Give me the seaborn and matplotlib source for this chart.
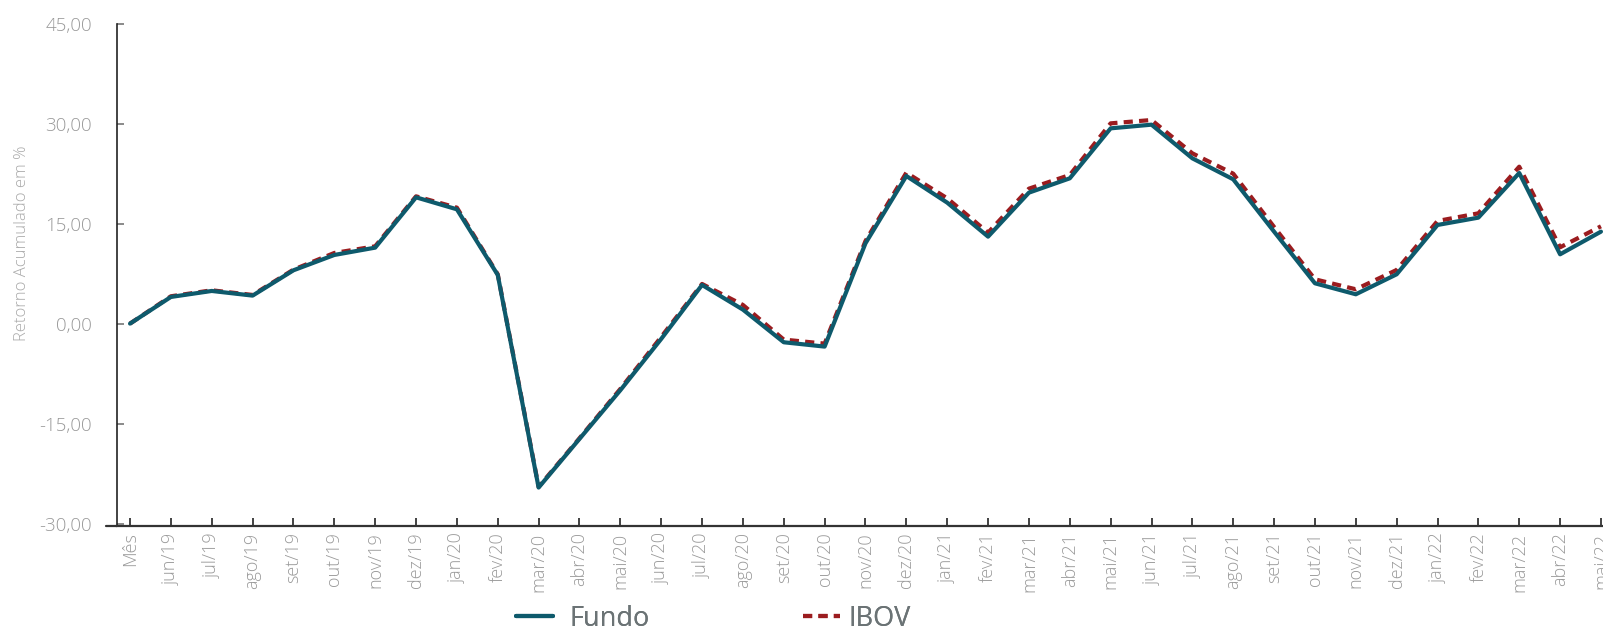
import matplotlib
matplotlib.use('Agg')
import numpy as np
import pandas as pd
import matplotlib.pyplot as plt
import seaborn as sns
from matplotlib.lines import Line2D
from matplotlib.ticker import FuncFormatter

meses = ["Mês", "jun/19", "jul/19", "ago/19", "set/19", "out/19", "nov/19", "dez/19",
         "jan/20", "fev/20", "mar/20", "abr/20", "mai/20", "jun/20", "jul/20", "ago/20",
         "set/20", "out/20", "nov/20", "dez/20", "jan/21", "fev/21", "mar/21", "abr/21",
         "mai/21", "jun/21", "jul/21", "ago/21", "set/21", "out/21", "nov/21", "dez/21",
         "jan/22", "fev/22", "mar/22", "abr/22", "mai/22"]

fundo = [0.0, 4.0, 4.9, 4.2, 8.0, 10.3, 11.4, 18.95, 17.15, 7.3, -24.6, -17.3, -10.0,
         -2.3, 5.8, 2.1, -2.8, -3.45, 12.05, 22.15, 18.15, 13.05, 19.65, 21.8, 29.3,
         29.85, 24.8, 21.65, 13.8, 6.05, 4.4, 7.4, 14.8, 15.9, 22.6, 10.4, 13.8]

ibov = [0.0, 4.1, 5.0, 4.3, 8.1, 10.6, 11.6, 19.1, 17.4, 7.4, -24.5, -17.2, -9.8,
        -2.0, 5.95, 2.8, -2.4, -3.0, 12.4, 22.65, 18.8, 13.65, 20.25, 22.3, 30.05,
        30.55, 25.55, 22.5, 14.5, 6.65, 5.15, 8.05, 15.4, 16.55, 23.55, 11.45, 14.6]

df = pd.DataFrame({"pos": np.arange(len(meses)), "mes": meses, "Fundo": fundo, "IBOV": ibov})

sns.set_style("white")
plt.rcParams['font.family'] = ['Open Sans', 'DejaVu Sans']

cor_fundo = "#0e5a6c"
cor_ibov = "#9b1c1f"
tracejado = (0, (2.2, 1.5))

fig = plt.figure(figsize=(16.03, 6.29), dpi=100)
ax = fig.add_axes([0.0727, 0.1645, 0.9273, 0.7978])

sns.lineplot(data=df, x="pos", y="IBOV", ax=ax, color=cor_ibov, linewidth=3,
             linestyle=tracejado, zorder=2)
sns.lineplot(data=df, x="pos", y="Fundo", ax=ax, color=cor_fundo, linewidth=3, zorder=3)

ax.set_xlim(-0.33, 36.05)
ax.set_ylim(-30.3, 45)
ax.set_yticks([-30, -15, 0, 15, 30, 45])
ax.yaxis.set_major_formatter(FuncFormatter(lambda v, p: f"{v:.2f}".replace(".", ",")))
ax.set_xticks(df["pos"])
ax.set_xticklabels(meses, rotation=90, va="top")
ax.set_xlabel("")
ax.set_ylabel("")

ax.tick_params(axis="y", direction="in", length=5, width=1.2, color="#777777",
               labelcolor="#999999", labelsize=13.5, pad=17.5, left=True)
ax.tick_params(axis="x", direction="in", length=5.5, width=1.2, color="#222222",
               labelcolor="#9a9a9a", labelsize=13, pad=5, bottom=True)
for lbl in ax.get_xticklabels() + ax.get_yticklabels():
    lbl.set_fontweight("light")

for s in ["top", "right"]:
    ax.spines[s].set_visible(False)
ax.spines["left"].set_color("#222222")
ax.spines["left"].set_linewidth(1.2)
ax.spines["bottom"].set_color("#333333")
ax.spines["bottom"].set_linewidth(1.6)
ax.plot([-0.007, 0], [0, 0], transform=ax.transAxes, color="#333333", lw=1.6, clip_on=False)

fig.text(22 / 1603, 0.614, "Retorno Acumulado em %", rotation=90, ha="center", va="center",
         fontsize=12, color="#aaaaaa", fontweight="light")

# two separate legend entries, placed like the reference
itens = [("Fundo", Line2D([], [], color=cor_fundo, lw=3), 516 / 1603, 0.6),
         ("IBOV", Line2D([], [], color=cor_ibov, lw=3, linestyle=tracejado), 803 / 1603, 0.3)]
for nome, h, x0, pad in itens:
    leg = fig.legend([h], [nome], loc="center left", bbox_to_anchor=(x0, 0.016),
                     frameon=False, handlelength=1.36, handletextpad=pad,
                     borderpad=0, borderaxespad=0, prop={"size": 19.5})
    leg.get_texts()[0].set_color("#6b7375")
    fig.add_artist(leg)

fig.savefig("out.png", dpi=100)
